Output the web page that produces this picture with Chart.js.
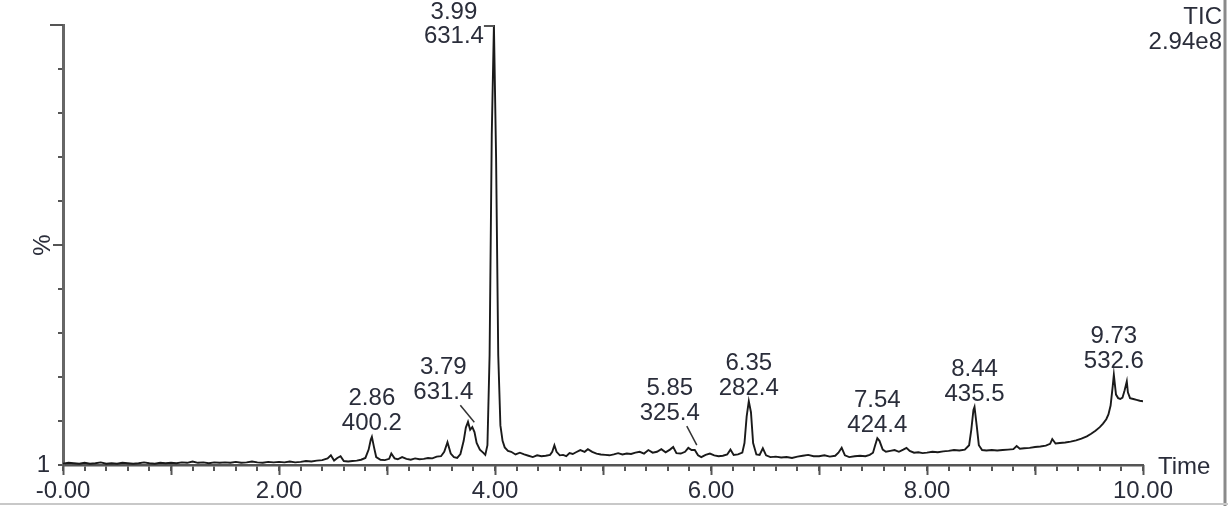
<!DOCTYPE html>
<html>
<head>
<meta charset="utf-8">
<title>TIC</title>
<script src="https://cdn.jsdelivr.net/npm/chart.js@4"></script>
<style>
  html, body { margin: 0; padding: 0; background: #fff; }
  #wrap { width: 1228px; height: 506px; position: relative; }
</style>
</head>
<body>
<div id="wrap"><canvas id="ticChart"></canvas></div>
<script>
// retention time (min) and TIC intensity (%)
const scanTime = [
  0.00, 0.05, 0.10, 0.15, 0.20, 0.25, 0.30, 0.35, 0.40, 0.45,
  0.50, 0.55, 0.60, 0.65, 0.70, 0.75, 0.80, 0.85, 0.90, 0.95,
  1.00, 1.05, 1.10, 1.15, 1.20, 1.25, 1.30, 1.35, 1.40, 1.45,
  1.50, 1.55, 1.60, 1.65, 1.70, 1.75, 1.80, 1.85, 1.90, 1.95,
  2.00, 2.05, 2.10, 2.15, 2.20, 2.25, 2.30, 2.35, 2.40, 2.45,
  2.48, 2.51, 2.54, 2.57, 2.60, 2.64, 2.68, 2.72, 2.76, 2.80,
  2.83, 2.85, 2.86, 2.88, 2.90, 2.94, 2.98, 3.02, 3.04, 3.07,
  3.10, 3.14, 3.18, 3.22, 3.26, 3.30, 3.34, 3.38, 3.42, 3.46,
  3.50, 3.53, 3.56, 3.59, 3.62, 3.65, 3.68, 3.71, 3.73, 3.75,
  3.77, 3.79, 3.81, 3.83, 3.86, 3.89, 3.91, 3.93, 3.95, 3.97,
  3.99, 4.01, 4.03, 4.05, 4.07, 4.09, 4.12, 4.15, 4.19, 4.23,
  4.27, 4.31, 4.35, 4.39, 4.43, 4.47, 4.51, 4.53, 4.55, 4.57,
  4.60, 4.63, 4.66, 4.69, 4.72, 4.75, 4.79, 4.83, 4.86, 4.90,
  4.94, 4.98, 5.02, 5.06, 5.10, 5.14, 5.18, 5.22, 5.26, 5.30,
  5.34, 5.38, 5.42, 5.46, 5.50, 5.54, 5.58, 5.62, 5.65, 5.68,
  5.72, 5.76, 5.79, 5.82, 5.85, 5.88, 5.91, 5.95, 5.99, 6.03,
  6.07, 6.11, 6.15, 6.18, 6.21, 6.25, 6.29, 6.31, 6.33, 6.35,
  6.37, 6.39, 6.42, 6.45, 6.48, 6.51, 6.55, 6.60, 6.65, 6.70,
  6.75, 6.80, 6.85, 6.90, 6.95, 7.00, 7.05, 7.10, 7.15, 7.18,
  7.21, 7.24, 7.28, 7.33, 7.38, 7.43, 7.47, 7.50, 7.52, 7.54,
  7.56, 7.59, 7.62, 7.66, 7.70, 7.74, 7.78, 7.81, 7.84, 7.88,
  7.92, 7.96, 8.00, 8.05, 8.10, 8.15, 8.20, 8.25, 8.30, 8.35,
  8.39, 8.41, 8.43, 8.44, 8.46, 8.48, 8.51, 8.55, 8.60, 8.65,
  8.70, 8.75, 8.80, 8.83, 8.86, 8.90, 8.95, 9.00, 9.05, 9.10,
  9.14, 9.16, 9.19, 9.23, 9.28, 9.33, 9.38, 9.43, 9.48, 9.52,
  9.56, 9.60, 9.63, 9.66, 9.68, 9.70, 9.72, 9.73, 9.75, 9.77,
  9.79, 9.81, 9.83, 9.85, 9.86, 9.88, 9.91, 9.94, 9.97, 10.00
];
const ticPct = [
  0.3, 0.5, 0.4, 0.3, 0.5, 0.3, 0.4, 0.6, 0.3, 0.4,
  0.3, 0.5, 0.4, 0.3, 0.4, 0.6, 0.4, 0.3, 0.5, 0.4,
  0.5, 0.4, 0.6, 0.5, 0.8, 0.5, 0.6, 0.4, 0.6, 0.5,
  0.6, 0.5, 0.7, 0.5, 0.6, 0.8, 0.6, 0.5, 0.7, 0.6,
  0.7, 0.6, 0.8, 0.6, 0.7, 0.9, 0.8, 1.0, 1.1, 1.5,
  2.2, 1.0, 1.6, 2.0, 0.9, 0.8, 0.9, 1.0, 1.2, 1.6,
  3.5, 5.8, 6.4, 4.0, 1.8, 1.2, 1.1, 1.4, 2.6, 1.5,
  1.3, 1.8, 1.4, 1.2, 1.5, 1.3, 1.4, 1.6, 1.5, 1.9,
  2.0, 3.0, 5.2, 2.6, 1.8, 1.6, 2.5, 5.5, 8.5, 9.8,
  8.0, 8.6, 7.5, 5.0, 3.5, 2.8, 2.3, 4.5, 25, 75,
  100, 70, 25, 9.0, 5.5, 4.0, 3.2, 3.0, 2.4, 2.8,
  2.4, 2.1, 1.8, 2.2, 2.0, 2.1, 2.3, 3.0, 4.5, 3.0,
  2.2, 2.3, 2.0, 2.7, 2.5, 2.9, 3.4, 3.0, 3.6, 3.0,
  2.6, 2.4, 2.3, 2.2, 2.4, 2.7, 2.4, 2.6, 2.5, 2.8,
  3.0, 2.6, 3.4, 2.8, 3.0, 3.6, 2.9, 3.5, 4.1, 2.7,
  2.6, 3.0, 3.9, 3.4, 3.4, 2.2, 1.8, 2.3, 2.6, 2.2,
  2.0, 2.1, 2.4, 3.5, 2.3, 2.4, 2.8, 5.0, 11.0, 14.5,
  12.0, 5.0, 2.4, 2.3, 3.8, 2.2, 1.8, 1.9, 1.7, 1.8,
  1.6, 1.9, 2.1, 2.3, 2.0, 2.0, 2.2, 1.9, 2.1, 2.8,
  3.9, 2.2, 1.8, 2.0, 2.1, 2.0, 2.3, 2.8, 4.5, 6.1,
  5.5, 3.5, 3.0, 3.2, 3.4, 3.0, 3.5, 3.9, 3.2, 2.8,
  2.9, 2.7, 2.8, 3.0, 2.9, 3.1, 3.2, 3.4, 3.3, 3.5,
  4.5, 8.0, 12.5, 13.2, 9.0, 4.5, 3.4, 3.3, 3.4, 3.3,
  3.4, 3.5, 3.6, 4.3, 3.7, 3.8, 3.9, 4.1, 4.2, 4.4,
  4.8, 5.9, 4.9, 5.0, 5.1, 5.3, 5.6, 6.0, 6.5, 7.1,
  7.8, 8.6, 9.4, 10.4, 11.5, 13.5, 18.0, 20.5, 16.0, 15.2,
  15.0, 15.3, 17.0, 19.0, 16.5, 15.2, 15.0, 14.8, 14.6, 14.5
];

// labelled peaks: retention time and base-peak m/z
const peakTimes = [2.86, 3.79, 3.99, 5.85, 6.35, 7.54, 8.44, 9.73];
const peakMasses = [400.2, 631.4, 631.4, 325.4, 282.4, 424.4, 435.5, 532.6];

const xTickValues = [0, 2, 4, 6, 8, 10];
const xTickLabels = ['-0.00', '2.00', '4.00', '6.00', '8.00', '10.00'];
const yTickLabel = '1';
const headerLines = ['TIC', '2.94e8'];
const xTitle = 'Time';
const yTitle = '%';

const FONT = '"Liberation Sans", Arial, sans-serif';
const textColor = '#2a2d3a';
const axisColor = '#555';

// labels that sit beside a taller neighbour and point to their peak
const shiftedLabels = {
  '3.79': { dx: -29, dy: -35 },
  '5.85': { dx: -25, dy: -37 }
};

function peakHeight(t) {
  let best = 0;
  scanTime.forEach((s, i) => {
    if (Math.abs(s - t) <= 0.025 && ticPct[i] > best) best = ticPct[i];
  });
  return best;
}

const decorPlugin = {
  id: 'decor',
  afterDraw(chart) {
    const { ctx, chartArea, scales } = chart;
    const x = scales.x, y = scales.y;
    ctx.save();

    // longer ticks: whole minutes on x, 50 and 100 on y
    ctx.strokeStyle = axisColor;
    ctx.lineWidth = 2;
    for (let m = 0; m <= 10; m++) {
      const px = Math.round(x.getPixelForValue(m)) + 0.5;
      ctx.beginPath();
      ctx.moveTo(px, chartArea.bottom);
      ctx.lineTo(px, chartArea.bottom + 10);
      ctx.stroke();
    }
    [[50, 10], [100, 13]].forEach(([v, len]) => {
      const py = y.getPixelForValue(v);
      ctx.beginPath();
      ctx.moveTo(chartArea.left - len, py);
      ctx.lineTo(chartArea.left, py);
      ctx.stroke();
    });

    ctx.font = '24px ' + FONT;
    ctx.fillStyle = textColor;
    ctx.textBaseline = 'middle';

    // axis titles
    ctx.textAlign = 'left';
    ctx.fillText(xTitle, chartArea.right + 15, chartArea.bottom + 2);
    ctx.save();
    ctx.translate(chartArea.left - 20, y.getPixelForValue(50));
    ctx.rotate(-Math.PI / 2);
    ctx.textAlign = 'center';
    ctx.fillText(yTitle, 0, 0);
    ctx.restore();

    // trace header, top right
    ctx.textAlign = 'right';
    ctx.fillText(headerLines[0], chart.width - 6, 17);
    ctx.fillText(headerLines[1], chart.width - 6, 42);

    // peak annotations
    peakTimes.forEach((t, i) => {
      const key = t.toFixed(2);
      const px = x.getPixelForValue(t);
      const top = y.getPixelForValue(peakHeight(t));
      const lines = [key, peakMasses[i].toFixed(1)];
      if (top - 45 < 0) {
        // off-scale peak: label to the left with a hook onto the trace
        ctx.textAlign = 'center';
        ctx.fillText(lines[0], px - 40, top - 13);
        ctx.fillText(lines[1], px - 40, top + 11);
        ctx.beginPath();
        ctx.moveTo(px - 10, top + 1);
        ctx.lineTo(px, top + 1);
        ctx.stroke();
        return;
      }
      const s = shiftedLabels[key];
      const cx = px + (s ? s.dx : 0);
      const cy = top + (s ? s.dy : -13);
      ctx.textAlign = 'center';
      ctx.fillText(lines[0], cx, cy - 25);
      ctx.fillText(lines[1], cx, cy);
      if (s) {
        ctx.strokeStyle = '#333';
        ctx.lineWidth = 1.5;
        ctx.beginPath();
        ctx.moveTo(cx + 17, cy + 13);
        ctx.lineTo(px + 2, top - 5);
        ctx.stroke();
        ctx.strokeStyle = axisColor;
        ctx.lineWidth = 2;
      }
    });

    // frame edges of the original figure
    ctx.strokeStyle = '#8a8a8a';
    ctx.lineWidth = 3;
    ctx.beginPath();
    ctx.moveTo(chart.width - 3, 0);
    ctx.lineTo(chart.width - 3, chart.height);
    ctx.stroke();
    ctx.strokeStyle = '#c8c8c8';
    ctx.lineWidth = 2;
    ctx.beginPath();
    ctx.moveTo(0, chart.height - 2);
    ctx.lineTo(chart.width, chart.height - 2);
    ctx.stroke();

    ctx.restore();
  }
};

document.addEventListener('DOMContentLoaded', function () {
  const ctx = document.getElementById('ticChart').getContext('2d');

  new Chart(ctx, {
    type: 'line',
    data: {
      datasets: [
        {
          label: 'TIC',
          data: scanTime.map((t, i) => ({ x: t, y: ticPct[i] })),
          borderColor: '#1a1a1a',
          borderWidth: 1.9,
          pointRadius: 0,
          tension: 0,
          fill: false,
        },
      ],
    },
    options: {
      responsive: true,
      maintainAspectRatio: false,
      animation: false,
      layout: { padding: { top: 25, right: 85, bottom: 0, left: 0 } },
      plugins: {
        legend: { display: false },
        tooltip: { enabled: false },
      },
      scales: {
        x: {
          type: 'linear',
          min: 0,
          max: 10,
          afterFit: (scale) => { scale.height = 41; },
          border: { color: axisColor, width: 2.5 },
          grid: { drawOnChartArea: false, tickLength: 6, color: axisColor, lineWidth: 2 },
          ticks: {
            stepSize: 0.2,
            autoSkip: false,
            maxRotation: 0,
            padding: 6,
            color: textColor,
            font: { family: FONT, size: 24 },
            callback: function (value) {
              const v = Math.round(value * 10) / 10;
              const k = xTickValues.indexOf(v);
              return k >= 0 ? xTickLabels[k] : '';
            },
          },
        },
        y: {
          min: 0,
          max: 100,
          afterFit: (scale) => { scale.width = 63; },
          border: { color: '#666', width: 3 },
          grid: { drawOnChartArea: false, tickLength: 5, color: axisColor, lineWidth: 2 },
          ticks: {
            stepSize: 10,
            padding: 8,
            color: textColor,
            font: { family: FONT, size: 24 },
            callback: function (value) {
              return value === 0 ? yTickLabel : '';
            },
          },
        },
      },
    },
    plugins: [decorPlugin],
  });
});
</script>
</body>
</html>
